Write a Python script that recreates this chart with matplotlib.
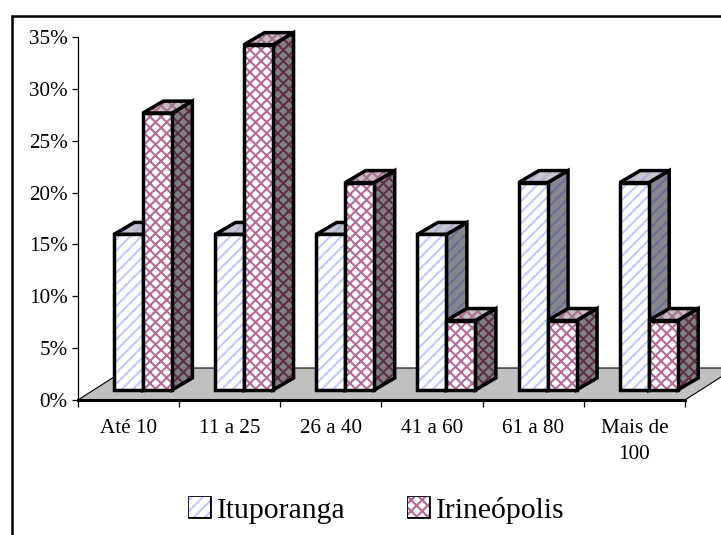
import matplotlib
matplotlib.use("Agg")
import matplotlib.pyplot as plt
from matplotlib.patches import Polygon, Patch, Rectangle

categories = ["Até 10", "11 a 25", "26 a 40", "41 a 60", "61 a 80", "Mais de\n100"]
ituporanga = [15, 15, 15, 15, 20, 20]
irineopolis = [26.7, 33.3, 20, 6.7, 6.7, 6.7]
y_ticks = [0, 5, 10, 15, 20, 25, 30, 35]
y_labels = ["0%", "5%", "10%", "15%", "20%", "25%", "30%", "35%"]

W, H = 721, 535
plt.rcParams["font.family"] = ["Liberation Serif", "DejaVu Serif"]
plt.rcParams["hatch.linewidth"] = 1.5

fig = plt.figure(figsize=(W / 100, H / 100), dpi=100, facecolor="white")
ax = fig.add_axes([78 / W, 1 - 400 / H, (685 - 78) / W, (400 - 37) / H])
ax.set_xlim(0, 6)
ax.set_ylim(0, 35)
ax.patch.set_visible(False)

PX = 6 / (685 - 78)
PY = 35 / (400 - 37)
FLOOR_DX, FLOOR_DY = 50 * PX, 32 * PY
DEPTH_DX, DEPTH_DY = 20.5 * PX, 12 * PY
BASE_Y = 10 * PY
GROUP_X = 35.9 * PX
BAR_W = 29 * PX

ax.add_patch(Polygon([(0, 0), (6, 0), (6 + FLOOR_DX, FLOOR_DY), (FLOOR_DX, FLOOR_DY)],
                     closed=True, fc="#C0C0C0", ec="black", lw=0.8, clip_on=False, zorder=1))


def face(pts, fc, hc, hatch, z):
    ax.add_patch(Polygon(pts, closed=True, fc=fc, ec=hc, hatch=hatch, lw=0, clip_on=False, zorder=z))
    ax.add_patch(Polygon(pts, closed=True, fill=False, ec="black", lw=2.5, clip_on=False,
                         joinstyle="miter", zorder=z + 0.01))


def bar3d(x, v, style, z):
    x1 = x + BAR_W
    top = BASE_Y + v
    face([(x1, BASE_Y), (x1 + DEPTH_DX, BASE_Y + DEPTH_DY), (x1 + DEPTH_DX, top + DEPTH_DY), (x1, top)],
         style["side"], style["side_h"], style["hatch"], z)
    face([(x, top), (x1, top), (x1 + DEPTH_DX, top + DEPTH_DY), (x + DEPTH_DX, top + DEPTH_DY)],
         style["top"], style["top_h"], style["hatch"], z + 0.1)
    face([(x, BASE_Y), (x1, BASE_Y), (x1, top), (x, top)],
         "white", style["front_h"], style["hatch"], z + 0.2)


blue = dict(hatch="///", front_h="#C4C8FA", side="#86868C", side_h="#6C7098", top="#C6C6CC", top_h="#ACB0D4")
pink = dict(hatch="xxx", front_h="#B46A94", side="#808080", side_h="#5C3048", top="#C4BCC0", top_h="#A47490")

for i in range(len(categories)):
    x0 = i + GROUP_X
    bar3d(x0, ituporanga[i], blue, 3 + i)
    bar3d(x0 + BAR_W, irineopolis[i], pink, 3.5 + i)

for s in ("top", "right"):
    ax.spines[s].set_visible(False)
ax.spines["left"].set_linewidth(0.9)
ax.spines["bottom"].set_linewidth(2.2)
ax.set_yticks(y_ticks)
ax.set_yticklabels(y_labels, fontsize=15.2)
ax.tick_params(axis="y", length=4.5, width=0.9, pad=3)
ax.set_xticks(range(7))
ax.set_xticklabels([])
ax.tick_params(axis="x", which="major", length=5, width=0.9)
ax.set_xticks([i + 0.5 for i in range(6)], minor=True)
ax.set_xticklabels(categories, minor=True, fontsize=15.2, linespacing=1.55)
ax.tick_params(axis="x", which="minor", length=0, pad=13.5)

fig.add_artist(Rectangle((11.5 / W, -0.1), 1.2, 0.1 + 1 - 16.5 / H, transform=fig.transFigure,
                         fill=False, ec="black", lw=1.8))

handles = [Patch(fc="white", ec=blue["front_h"], lw=0, hatch=blue["hatch"], label="Ituporanga"),
           Patch(fc="white", ec=pink["front_h"], lw=0, hatch=pink["hatch"], label="Irineópolis")]
leg = fig.legend(handles=handles, ncol=2, frameon=False, fontsize=21.3,
                 loc="center", bbox_to_anchor=(377 / W, 1 - 510 / H),
                 handlelength=0.7, handleheight=0.64, handletextpad=0.25, columnspacing=2.1)
fig.canvas.draw()
for p in leg.get_patches():
    bb = p.get_window_extent()
    fig.add_artist(Rectangle((bb.x0 / W, bb.y0 / H), bb.width / W, bb.height / H,
                             transform=fig.transFigure, fill=False, ec="black", lw=2))
fig.savefig("out.png", dpi=100)
